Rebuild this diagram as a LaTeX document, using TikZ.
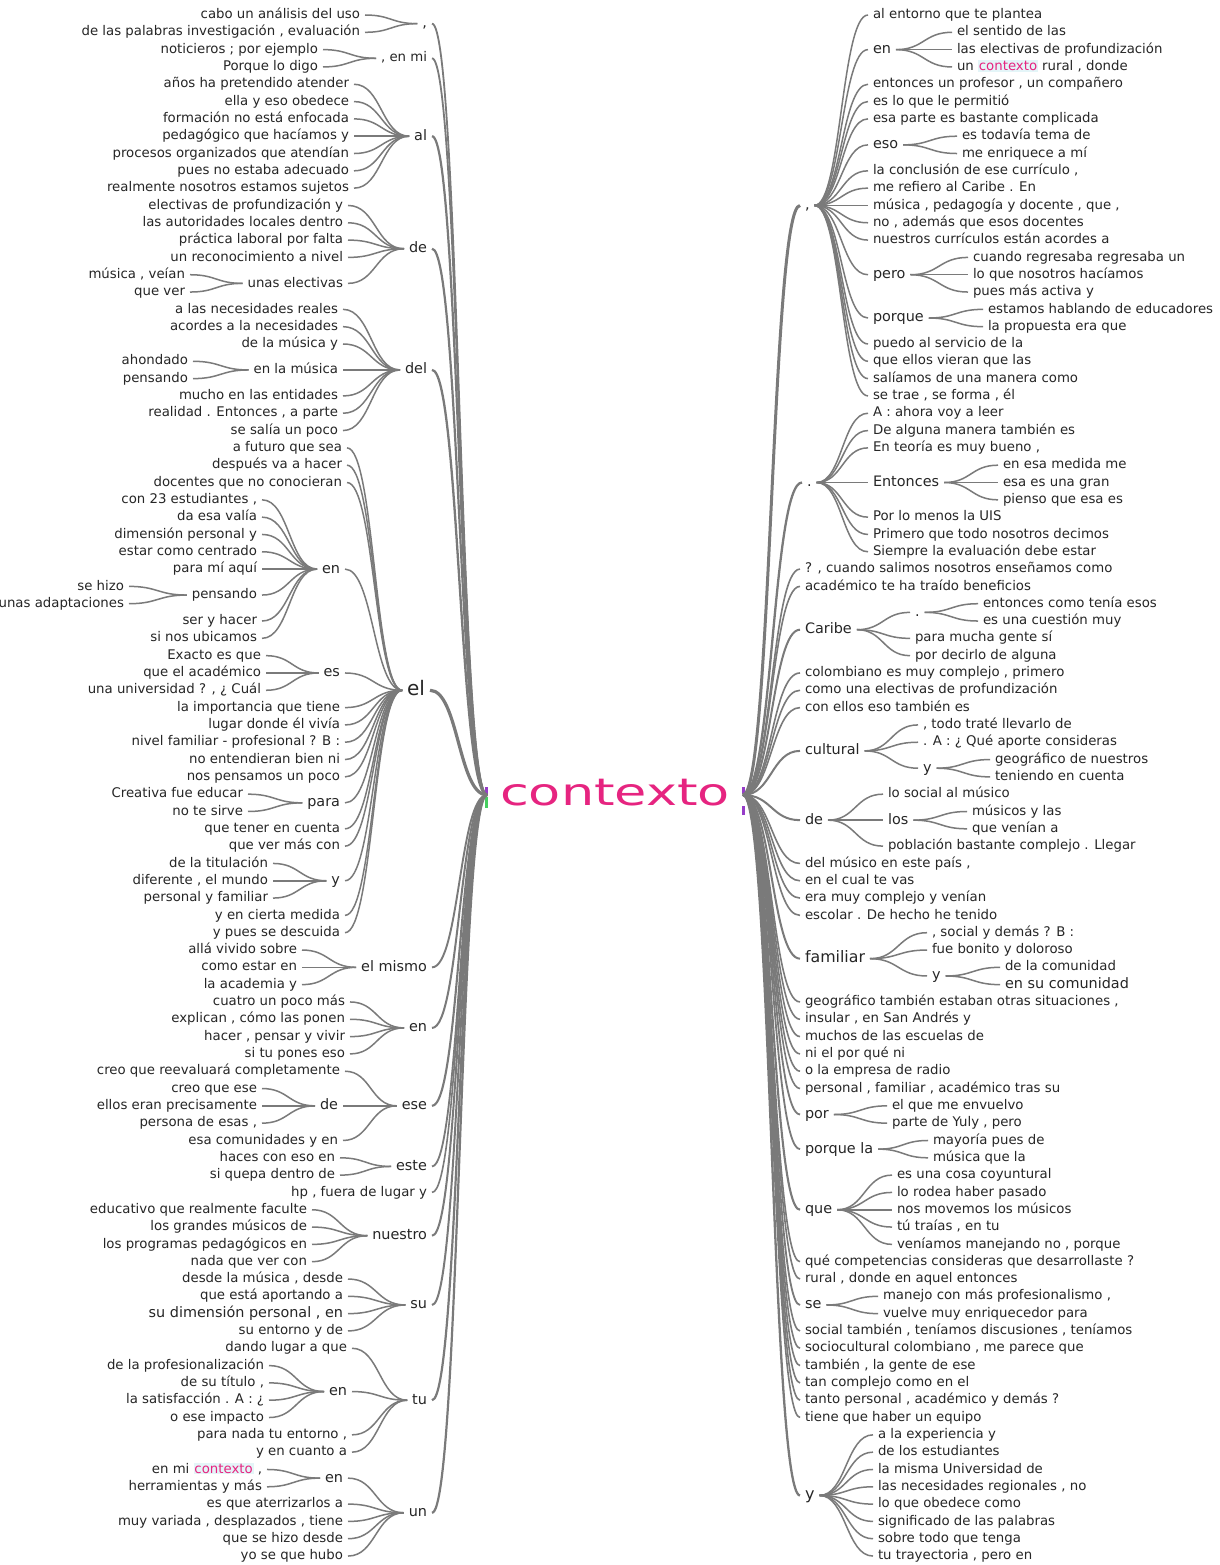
\documentclass[tikz,border=0pt]{standalone}
\usepackage{fontspec}
\usepackage{graphicx}
\setmainfont{DejaVu Sans}
\usetikzlibrary{calc}
\definecolor{ink}{RGB}{38,38,38}
\definecolor{wire}{RGB}{122,122,122}
\definecolor{hot}{RGB}{230,36,128}
\definecolor{hlbg}{RGB}{228,245,248}
\definecolor{anchorgreen}{RGB}{70,205,95}
\definecolor{anchorpurple}{RGB}{150,60,200}
\newcommand\leaffont{\fontsize{13.3}{16}\selectfont}
\newcommand\wordfont{\fontsize{14.4}{17}\selectfont}
\newcommand\hotword[1]{{\setlength{\fboxsep}{0.8pt}\colorbox{hlbg}{\textcolor{hot}{#1}}}}
% vertical position of text row n
\pgfmathdeclarefunction{ry}{1}{\pgfmathparse{15+17.315*(#1-1)}}
\begin{document}
\begin{tikzpicture}[x=1pt,y=-1pt,
  txt/.style={inner sep=0pt,outer xsep=5pt,outer ysep=0pt,text=ink,font=\leaffont,text height=10pt,text depth=2.7pt},
  lt/.style={txt,anchor=east},
  rt/.style={txt,anchor=west},
  wd/.style={font=\wordfont,text height=10.8pt,text depth=2.9pt},
  link/.style={draw=wire,line width=1.5pt,to path={let \p1=(\tikztostart),\p2=(\tikztotarget) in .. controls ({0.5*\x1+0.5*\x2},\y1) and ({0.5*\x1+0.5*\x2},\y2) .. (\tikztotarget)}},
]
\fill[white] (0,0) rectangle (1219,1565);
\useasboundingbox (0,0) rectangle (1219,1565);

% root word
\node[inner sep=0pt,outer xsep=13pt,text=hot,font=\fontsize{37.5}{40}\selectfont,text height=28pt,text depth=8pt] (root) at (615,795) {\scalebox{1.4}[1]{contexto}};
\fill[anchorpurple] (485,787) rectangle (488,795);
\fill[anchorgreen] (485,797) rectangle (488,808);
\fill[anchorpurple] (742,787) rectangle (745,794);
\fill[anchorpurple] (742,806) rectangle (745,815);
\fill[anchorgreen] (746.5,788) rectangle (749.5,802);

% ---------------- left side ----------------
\node[lt,wd] (A) at (432,{ry(1.5)}) {,};
\node[lt] (A1) at (365,{ry(1)}) {cabo un análisis del uso};
\node[lt] (A2) at (365,{ry(2)}) {de las palabras investigación , evaluación};

\node[lt] (B) at (432,{ry(3.5)}) {, en mi};
\node[lt] (B1) at (323,{ry(3)}) {noticieros ; por ejemplo};
\node[lt] (B2) at (323,{ry(4)}) {Porque lo digo};

\node[lt,wd] (C) at (432,{ry(8)}) {al};
\node[lt] (C1) at (354,{ry(5)}) {años ha pretendido atender};
\node[lt] (C2) at (354,{ry(6)}) {ella y eso obedece};
\node[lt] (C3) at (354,{ry(7)}) {formación no está enfocada};
\node[lt] (C4) at (354,{ry(8)}) {pedagógico que hacíamos y};
\node[lt] (C5) at (354,{ry(9)}) {procesos organizados que atendían};
\node[lt] (C6) at (354,{ry(10)}) {pues no estaba adecuado};
\node[lt] (C7) at (354,{ry(11)}) {realmente nosotros estamos sujetos};

\node[lt,wd] (D) at (432,{ry(14.5)}) {de};
\node[lt] (D1) at (348,{ry(12)}) {electivas de profundización y};
\node[lt] (D2) at (348,{ry(13)}) {las autoridades locales dentro};
\node[lt] (D3) at (348,{ry(14)}) {práctica laboral por falta};
\node[lt] (D4) at (348,{ry(15)}) {un reconocimiento a nivel};
\node[lt] (D5) at (348,{ry(16.5)}) {unas electivas};
\node[lt] (D6) at (190,{ry(16)}) {música , veían};
\node[lt] (D7) at (190,{ry(17)}) {que ver};

\node[lt,wd] (E) at (432,{ry(21.5)}) {del};
\node[lt] (E1) at (343,{ry(18)}) {a las necesidades reales};
\node[lt] (E2) at (343,{ry(19)}) {acordes a la necesidades};
\node[lt] (E3) at (343,{ry(20)}) {de la música y};
\node[lt] (E4) at (343,{ry(21.5)}) {en la música};
\node[lt] (E5) at (193,{ry(21)}) {ahondado};
\node[lt] (E6) at (193,{ry(22)}) {pensando};
\node[lt] (E7) at (343,{ry(23)}) {mucho en las entidades};
\node[lt] (E8) at (343,{ry(24)}) {realidad . Entonces , a parte};
\node[lt] (E9) at (343,{ry(25)}) {se salía un poco};

\node[lt,font=\fontsize{20}{24}\selectfont,text height=15pt,text depth=4pt] (F) at (430,{ry(40)}) {el};
\node[lt] (F1) at (347,{ry(26)}) {a futuro que sea};
\node[lt] (F2) at (347,{ry(27)}) {después va a hacer};
\node[lt] (F3) at (347,{ry(28)}) {docentes que no conocieran};
\node[lt,wd] (G) at (345,{ry(33)}) {en};
\node[lt] (G1) at (262,{ry(29)}) {con 23 estudiantes ,};
\node[lt] (G2) at (262,{ry(30)}) {da esa valía};
\node[lt] (G3) at (262,{ry(31)}) {dimensión personal y};
\node[lt] (G4) at (262,{ry(32)}) {estar como centrado};
\node[lt] (G5) at (262,{ry(33)}) {para mí aquí};
\node[lt] (G6) at (262,{ry(34.5)}) {pensando};
\node[lt] (G7) at (129,{ry(34)}) {se hizo};
\node[lt] (G8) at (129,{ry(35)}) {unas adaptaciones};
\node[lt] (G9) at (262,{ry(36)}) {ser y hacer};
\node[lt] (G10) at (262,{ry(37)}) {si nos ubicamos};
\node[lt,wd] (H) at (345,{ry(39)}) {es};
\node[lt] (H1) at (266,{ry(38)}) {Exacto es que};
\node[lt] (H2) at (266,{ry(39)}) {que el académico};
\node[lt] (H3) at (266,{ry(40)}) {una universidad ? , ¿ Cuál};
\node[lt] (F4) at (345,{ry(41)}) {la importancia que tiene};
\node[lt] (F5) at (345,{ry(42)}) {lugar donde él vivía};
\node[lt] (F6) at (345,{ry(43)}) {nivel familiar - profesional ? B :};
\node[lt] (F7) at (345,{ry(44)}) {no entendieran bien ni};
\node[lt] (F8) at (345,{ry(45)}) {nos pensamos un poco};
\node[lt,wd] (I) at (345,{ry(46.5)}) {para};
\node[lt] (I1) at (248,{ry(46)}) {Creativa fue educar};
\node[lt] (I2) at (248,{ry(47)}) {no te sirve};
\node[lt] (F9) at (345,{ry(48)}) {que tener en cuenta};
\node[lt] (F10) at (345,{ry(49)}) {que ver más con};
\node[lt,wd] (J) at (345,{ry(51)}) {y};
\node[lt] (J1) at (273,{ry(50)}) {de la titulación};
\node[lt] (J2) at (273,{ry(51)}) {diferente , el mundo};
\node[lt] (J3) at (273,{ry(52)}) {personal y familiar};
\node[lt] (F11) at (345,{ry(53)}) {y en cierta medida};
\node[lt] (F12) at (345,{ry(54)}) {y pues se descuida};

\node[lt,wd] (K) at (432,{ry(56)}) {el mismo};
\node[lt] (K1) at (302,{ry(55)}) {allá vivido sobre};
\node[lt] (K2) at (302,{ry(56)}) {como estar en};
\node[lt] (K3) at (302,{ry(57)}) {la academia y};

\node[lt,wd] (L) at (432,{ry(59.5)}) {en};
\node[lt] (L1) at (350,{ry(58)}) {cuatro un poco más};
\node[lt] (L2) at (350,{ry(59)}) {explican , cómo las ponen};
\node[lt] (L3) at (350,{ry(60)}) {hacer , pensar y vivir};
\node[lt] (L4) at (350,{ry(61)}) {si tu pones eso};

\node[lt,wd] (M) at (432,{ry(64)}) {ese};
\node[lt] (M1) at (345,{ry(62)}) {creo que reevaluará completamente};
\node[lt,wd] (N) at (343,{ry(64)}) {de};
\node[lt] (N1) at (262,{ry(63)}) {creo que ese};
\node[lt] (N2) at (262,{ry(64)}) {ellos eran precisamente};
\node[lt] (N3) at (262,{ry(65)}) {persona de esas ,};
\node[lt] (M2) at (343,{ry(66)}) {esa comunidades y en};

\node[lt,wd] (O) at (432,{ry(67.5)}) {este};
\node[lt] (O1) at (340,{ry(67)}) {haces con eso en};
\node[lt] (O2) at (340,{ry(68)}) {si quepa dentro de};

\node[lt] (Q) at (432,{ry(69)}) {hp , fuera de lugar y};

\node[lt,wd] (S) at (432,{ry(71.5)}) {nuestro};
\node[lt] (S1) at (312,{ry(70)}) {educativo que realmente faculte};
\node[lt] (S2) at (312,{ry(71)}) {los grandes músicos de};
\node[lt] (S3) at (312,{ry(72)}) {los programas pedagógicos en};
\node[lt] (S4) at (312,{ry(73)}) {nada que ver con};

\node[lt,wd] (T) at (432,{ry(75.5)}) {su};
\node[lt] (T1) at (348,{ry(74)}) {desde la música , desde};
\node[lt] (T2) at (348,{ry(75)}) {que está aportando a};
\node[lt,wd] (T3) at (348,{ry(76)}) {su dimensión personal , en};
\node[lt] (T4) at (348,{ry(77)}) {su entorno y de};

\node[lt,wd] (U) at (432,{ry(81)}) {tu};
\node[lt] (U1) at (352,{ry(78)}) {dando lugar a que};
\node[lt,wd] (V) at (352,{ry(80.5)}) {en};
\node[lt] (V1) at (269,{ry(79)}) {de la profesionalización};
\node[lt] (V2) at (269,{ry(80)}) {de su título ,};
\node[lt] (V3) at (269,{ry(81)}) {la satisfacción . A : ¿};
\node[lt] (V4) at (269,{ry(82)}) {o ese impacto};
\node[lt] (U2) at (352,{ry(83)}) {para nada tu entorno ,};
\node[lt] (U3) at (352,{ry(84)}) {y en cuanto a};

\node[lt,wd] (W) at (432,{ry(87.5)}) {un};
\node[lt,wd] (X) at (348,{ry(85.5)}) {en};
\node[lt] (X1) at (267,{ry(85)}) {en mi \hotword{contexto} ,};
\node[lt] (X2) at (267,{ry(86)}) {herramientas y más};
\node[lt] (W1) at (348,{ry(87)}) {es que aterrizarlos a};
\node[lt] (W2) at (348,{ry(88)}) {muy variada , desplazados , tiene};
\node[lt] (W3) at (348,{ry(89)}) {que se hizo desde};
\node[lt] (W4) at (348,{ry(90)}) {yo se que hubo};

% ---------------- right side ----------------
\node[rt,wd] (P) at (800,{ry(12)}) {,};
\node[rt] (P1) at (868,{ry(1)}) {al entorno que te plantea};
\node[rt,wd] (Pa) at (868,{ry(3)}) {en};
\node[rt] (Pa1) at (952,{ry(2)}) {el sentido de las};
\node[rt] (Pa2) at (952,{ry(3)}) {las electivas de profundización};
\node[rt] (Pa3) at (952,{ry(4)}) {un \hotword{contexto} rural , donde};
\node[rt] (P2) at (868,{ry(5)}) {entonces un profesor , un compañero};
\node[rt] (P3) at (868,{ry(6)}) {es lo que le permitió};
\node[rt] (P4) at (868,{ry(7)}) {esa parte es bastante complicada};
\node[rt,wd] (Pb) at (868,{ry(8.5)}) {eso};
\node[rt] (Pb1) at (957,{ry(8)}) {es todavía tema de};
\node[rt] (Pb2) at (957,{ry(9)}) {me enriquece a mí};
\node[rt] (P5) at (868,{ry(10)}) {la conclusión de ese currículo ,};
\node[rt] (P6) at (868,{ry(11)}) {me refiero al Caribe . En};
\node[rt] (P7) at (868,{ry(12)}) {música , pedagogía y docente , que ,};
\node[rt] (P8) at (868,{ry(13)}) {no , además que esos docentes};
\node[rt] (P9) at (868,{ry(14)}) {nuestros currículos están acordes a};
\node[rt,wd] (Pc) at (868,{ry(16)}) {pero};
\node[rt] (Pc1) at (968,{ry(15)}) {cuando regresaba regresaba un};
\node[rt] (Pc2) at (968,{ry(16)}) {lo que nosotros hacíamos};
\node[rt] (Pc3) at (968,{ry(17)}) {pues más activa y};
\node[rt,wd] (Pd) at (868,{ry(18.5)}) {porque};
\node[rt] (Pd1) at (983,{ry(18)}) {estamos hablando de educadores};
\node[rt] (Pd2) at (983,{ry(19)}) {la propuesta era que};
\node[rt] (P10) at (868,{ry(20)}) {puedo al servicio de la};
\node[rt] (P11) at (868,{ry(21)}) {que ellos vieran que las};
\node[rt] (P12) at (868,{ry(22)}) {salíamos de una manera como};
\node[rt] (P13) at (868,{ry(23)}) {se trae , se forma , él};

\node[rt,wd] (Dt) at (802,{ry(28)}) {.};
\node[rt] (Dt1) at (868,{ry(24)}) {A : ahora voy a leer};
\node[rt] (Dt2) at (868,{ry(25)}) {De alguna manera también es};
\node[rt] (Dt3) at (868,{ry(26)}) {En teoría es muy bueno ,};
\node[rt,wd] (Dte) at (868,{ry(28)}) {Entonces};
\node[rt] (Dte1) at (998,{ry(27)}) {en esa medida me};
\node[rt] (Dte2) at (998,{ry(28)}) {esa es una gran};
\node[rt] (Dte3) at (998,{ry(29)}) {pienso que esa es};
\node[rt] (Dt4) at (868,{ry(30)}) {Por lo menos la UIS};
\node[rt] (Dt5) at (868,{ry(31)}) {Primero que todo nosotros decimos};
\node[rt] (Dt6) at (868,{ry(32)}) {Siempre la evaluación debe estar};

\node[rt] (R1) at (800,{ry(33)}) {? , cuando salimos nosotros enseñamos como};
\node[rt] (R2) at (800,{ry(34)}) {académico te ha traído beneficios};

\node[rt,wd] (Cb) at (800,{ry(36.5)}) {Caribe};
\node[rt,wd] (Cbd) at (910,{ry(35.5)}) {.};
\node[rt] (Cbd1) at (978,{ry(35)}) {entonces como tenía esos};
\node[rt] (Cbd2) at (978,{ry(36)}) {es una cuestión muy};
\node[rt] (Cb1) at (910,{ry(37)}) {para mucha gente sí};
\node[rt] (Cb2) at (910,{ry(38)}) {por decirlo de alguna};

\node[rt] (R3) at (800,{ry(39)}) {colombiano es muy complejo , primero};
\node[rt] (R4) at (800,{ry(40)}) {como una electivas de profundización};
\node[rt] (R5) at (800,{ry(41)}) {con ellos eso también es};

\node[rt,wd] (Cu) at (800,{ry(43.5)}) {cultural};
\node[rt] (Cu1) at (918,{ry(42)}) {, todo traté llevarlo de};
\node[rt] (Cu2) at (918,{ry(43)}) {. A : ¿ Qué aporte consideras};
\node[rt,wd] (Cuy) at (918,{ry(44.5)}) {y};
\node[rt] (Cuy1) at (990,{ry(44)}) {geográfico de nuestros};
\node[rt] (Cuy2) at (990,{ry(45)}) {teniendo en cuenta};

\node[rt,wd] (De) at (800,{ry(47.5)}) {de};
\node[rt] (De1) at (883,{ry(46)}) {lo social al músico};
\node[rt,wd] (Dl) at (883,{ry(47.5)}) {los};
\node[rt] (Dl1) at (967,{ry(47)}) {músicos y las};
\node[rt] (Dl2) at (967,{ry(48)}) {que venían a};
\node[rt] (De2) at (883,{ry(49)}) {población bastante complejo . Llegar};

\node[rt] (R6) at (800,{ry(50)}) {del músico en este país ,};
\node[rt] (R7) at (800,{ry(51)}) {en el cual te vas};
\node[rt] (R8) at (800,{ry(52)}) {era muy complejo y venían};
\node[rt] (R9) at (800,{ry(53)}) {escolar . De hecho he tenido};

\node[rt,font=\fontsize{15.8}{18}\selectfont,text height=11.8pt,text depth=3.2pt] (Fa) at (800,{ry(55.5)}) {familiar};
\node[rt] (Fa1) at (927,{ry(54)}) {, social y demás ? B :};
\node[rt] (Fa2) at (927,{ry(55)}) {fue bonito y doloroso};
\node[rt,wd] (Fy) at (927,{ry(56.5)}) {y};
\node[rt] (Fy1) at (1000,{ry(56)}) {de la comunidad};
\node[rt,wd] (Fy2) at (1000,{ry(57)}) {en su comunidad};

\node[rt] (R10) at (800,{ry(58)}) {geográfico también estaban otras situaciones ,};
\node[rt] (R11) at (800,{ry(59)}) {insular , en San Andrés y};
\node[rt] (R12) at (800,{ry(60)}) {muchos de las escuelas de};
\node[rt] (R13) at (800,{ry(61)}) {ni el por qué ni};
\node[rt] (R14) at (800,{ry(62)}) {o la empresa de radio};
\node[rt] (R15) at (800,{ry(63)}) {personal , familiar , académico tras su};

\node[rt,wd] (Po) at (800,{ry(64.5)}) {por};
\node[rt] (Po1) at (887,{ry(64)}) {el que me envuelvo};
\node[rt] (Po2) at (887,{ry(65)}) {parte de Yuly , pero};

\node[rt,wd] (Pq) at (800,{ry(66.5)}) {porque la};
\node[rt] (Pq1) at (928,{ry(66)}) {mayoría pues de};
\node[rt] (Pq2) at (928,{ry(67)}) {música que la};

\node[rt,wd] (Qu) at (800,{ry(70)}) {que};
\node[rt] (Qu1) at (892,{ry(68)}) {es una cosa coyuntural};
\node[rt] (Qu2) at (892,{ry(69)}) {lo rodea haber pasado};
\node[rt] (Qu3) at (892,{ry(70)}) {nos movemos los músicos};
\node[rt] (Qu4) at (892,{ry(71)}) {tú traías , en tu};
\node[rt] (Qu5) at (892,{ry(72)}) {veníamos manejando no , porque};

\node[rt] (R16) at (800,{ry(73)}) {qué competencias consideras que desarrollaste ?};
\node[rt] (R17) at (800,{ry(74)}) {rural , donde en aquel entonces};

\node[rt,wd] (Se) at (800,{ry(75.5)}) {se};
\node[rt] (Se1) at (878,{ry(75)}) {manejo con más profesionalismo ,};
\node[rt] (Se2) at (878,{ry(76)}) {vuelve muy enriquecedor para};

\node[rt] (R18) at (800,{ry(77)}) {social también , teníamos discusiones , teníamos};
\node[rt] (R19) at (800,{ry(78)}) {sociocultural colombiano , me parece que};
\node[rt] (R20) at (800,{ry(79)}) {también , la gente de ese};
\node[rt] (R21) at (800,{ry(80)}) {tan complejo como en el};
\node[rt] (R22) at (800,{ry(81)}) {tanto personal , académico y demás ?};
\node[rt] (R23) at (800,{ry(82)}) {tiene que haber un equipo};

\node[rt,font=\fontsize{16}{19}\selectfont,text height=12pt,text depth=3.2pt] (Yy) at (800,{ry(86.5)}) {y};
\node[rt] (Yy1) at (873,{ry(83)}) {a la experiencia y};
\node[rt] (Yy2) at (873,{ry(84)}) {de los estudiantes};
\node[rt] (Yy3) at (873,{ry(85)}) {la misma Universidad de};
\node[rt] (Yy4) at (873,{ry(86)}) {las necesidades regionales , no};
\node[rt] (Yy5) at (873,{ry(87)}) {lo que obedece como};
\node[rt] (Yy6) at (873,{ry(88)}) {significado de las palabras};
\node[rt] (Yy7) at (873,{ry(89)}) {sobre todo que tenga};
\node[rt] (Yy8) at (873,{ry(90)}) {tu trayectoria , pero en};

% ---------------- connectors ----------------
% trunk, left
\foreach \c/\w in {A/1.8,B/1.8,C/2.2,D/2.2,E/2.3,F/3.2,K/1.9,L/2.0,M/2.1,O/1.8,Q/1.6,S/2.0,T/2.0,U/2.2,W/2.2}
  \draw[link,line width=\w pt] (root.west) to (\c.east);
% trunk, right
\foreach \c/\w in {P/3.0,Dt/2.3,R1/1.6,R2/1.6,Cb/2.0,R3/1.6,R4/1.6,R5/1.6,Cu/2.0,De/2.0,R6/1.6,R7/1.6,R8/1.6,R9/1.6,Fa/2.0,R10/1.6,R11/1.6,R12/1.6,R13/1.6,R14/1.6,R15/1.6,Po/1.8,Pq/1.8,Qu/2.1,R16/1.6,R17/1.6,Se/1.8,R18/1.6,R19/1.6,R20/1.6,R21/1.6,R22/1.6,R23/1.6,Yy/2.3}
  \draw[link,line width=\w pt] (root.east) to (\c.west);

% branches, left
\foreach \p/\c in {A/A1,A/A2,B/B1,B/B2,
  C/C1,C/C2,C/C3,C/C4,C/C5,C/C6,C/C7,
  D/D1,D/D2,D/D3,D/D4,D/D5,D5/D6,D5/D7,
  E/E1,E/E2,E/E3,E/E4,E/E7,E/E8,E/E9,E4/E5,E4/E6,
  F/F1,F/F2,F/F3,F/G,F/H,F/F4,F/F5,F/F6,F/F7,F/F8,F/I,F/F9,F/F10,F/J,F/F11,F/F12,
  G/G1,G/G2,G/G3,G/G4,G/G5,G/G6,G/G9,G/G10,G6/G7,G6/G8,
  H/H1,H/H2,H/H3,I/I1,I/I2,J/J1,J/J2,J/J3,
  K/K1,K/K2,K/K3,L/L1,L/L2,L/L3,L/L4,
  M/M1,M/N,M/M2,N/N1,N/N2,N/N3,O/O1,O/O2,
  S/S1,S/S2,S/S3,S/S4,T/T1,T/T2,T/T3,T/T4,
  U/U1,U/V,U/U2,U/U3,V/V1,V/V2,V/V3,V/V4,
  W/X,W/W1,W/W2,W/W3,W/W4,X/X1,X/X2}
  \draw[link] (\p.west) to (\c.east);

% branches, right
\foreach \p/\c in {P/P1,P/Pa,P/P2,P/P3,P/P4,P/Pb,P/P5,P/P6,P/P7,P/P8,P/P9,P/Pc,P/Pd,P/P10,P/P11,P/P12,P/P13,
  Pa/Pa1,Pa/Pa2,Pa/Pa3,Pb/Pb1,Pb/Pb2,Pc/Pc1,Pc/Pc2,Pc/Pc3,Pd/Pd1,Pd/Pd2,
  Dt/Dt1,Dt/Dt2,Dt/Dt3,Dt/Dte,Dt/Dt4,Dt/Dt5,Dt/Dt6,Dte/Dte1,Dte/Dte2,Dte/Dte3,
  Cb/Cbd,Cb/Cb1,Cb/Cb2,Cbd/Cbd1,Cbd/Cbd2,
  Cu/Cu1,Cu/Cu2,Cu/Cuy,Cuy/Cuy1,Cuy/Cuy2,
  De/De1,De/Dl,De/De2,Dl/Dl1,Dl/Dl2,
  Fa/Fa1,Fa/Fa2,Fa/Fy,Fy/Fy1,Fy/Fy2,
  Po/Po1,Po/Po2,Pq/Pq1,Pq/Pq2,
  Qu/Qu1,Qu/Qu2,Qu/Qu3,Qu/Qu4,Qu/Qu5,Se/Se1,Se/Se2,
  Yy/Yy1,Yy/Yy2,Yy/Yy3,Yy/Yy4,Yy/Yy5,Yy/Yy6,Yy/Yy7,Yy/Yy8}
  \draw[link] (\p.east) to (\c.west);
\end{tikzpicture}
\end{document}
